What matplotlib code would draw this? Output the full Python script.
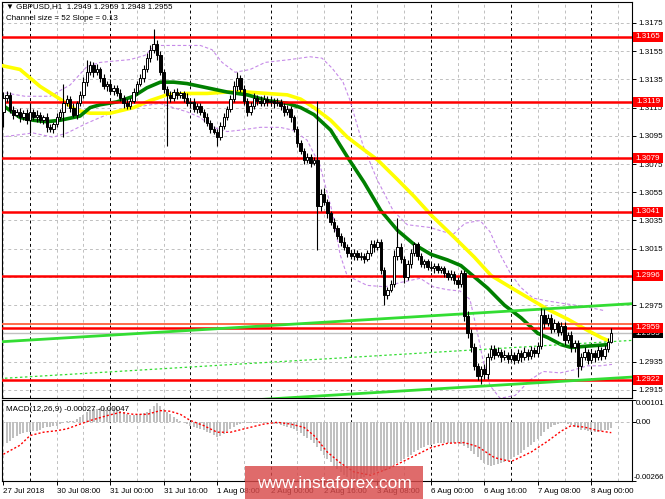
import numpy as np
import matplotlib
matplotlib.use('Agg')
import matplotlib.pyplot as plt
from matplotlib.patches import Rectangle

plt.rcParams['font.family'] = ['Liberation Sans', 'DejaVu Sans']

# GBPUSD H1, bar 0 = 27 Jul 2018 16:00
first_open = 1.3112
closes = [
    1.3122, 1.3124, 1.3113, 1.3110, 1.3112, 1.3108, 1.3111, 1.3106, 1.3112, 1.3108,
    1.3110, 1.3106, 1.3108, 1.3101, 1.3100, 1.3103, 1.3108, 1.3112, 1.3118, 1.3121,
    1.3115, 1.3110, 1.3118, 1.3124, 1.3133, 1.3140, 1.3145, 1.3140, 1.3142, 1.3136,
    1.3130, 1.3132, 1.3127, 1.3129, 1.3125, 1.3122, 1.3118, 1.3116, 1.3120, 1.3126,
    1.3132, 1.3136, 1.3142, 1.3150, 1.3156, 1.3160, 1.3152, 1.3140, 1.3128, 1.3124,
    1.3122, 1.3126, 1.3124, 1.3125, 1.3122, 1.3118, 1.3119, 1.3114, 1.3116, 1.3112,
    1.3108, 1.3104, 1.3100, 1.3098, 1.3094, 1.3102, 1.3108, 1.3114, 1.3121, 1.3130,
    1.3136, 1.3128, 1.3120, 1.3112, 1.3116, 1.3122, 1.3120, 1.3118, 1.3121, 1.3119,
    1.3120, 1.3118, 1.3119, 1.3116, 1.3112, 1.3114, 1.3108, 1.3100, 1.3090, 1.3084,
    1.3078, 1.3080, 1.3076, 1.3078, 1.3045, 1.3054, 1.3048, 1.3040, 1.3034, 1.3030,
    1.3024, 1.3020, 1.3016, 1.3012, 1.3010, 1.3012, 1.3009, 1.3010, 1.3008, 1.3012,
    1.3018, 1.3016, 1.3020, 1.3000, 1.2982, 1.2986, 1.2990, 1.3010, 1.3016, 1.3008,
    1.2995, 1.3004, 1.3012, 1.3018, 1.3010, 1.3004, 1.3006, 1.3002, 1.3001, 1.3003,
    1.3000, 1.3001, 1.2998, 1.2995, 1.2997, 1.2993, 1.2990, 1.2998, 1.2967, 1.2955,
    1.2945, 1.2932, 1.2925, 1.2930, 1.2926, 1.2938, 1.2944, 1.2940, 1.2942, 1.2938,
    1.2940, 1.2937, 1.2940, 1.2936, 1.2941, 1.2938, 1.2942, 1.2939, 1.2943, 1.2941,
    1.2946, 1.2968, 1.2962, 1.2966, 1.2958, 1.2962, 1.2956, 1.2960, 1.2950, 1.2954,
    1.2945, 1.2948, 1.2932, 1.2938, 1.2942, 1.2936, 1.2941, 1.2938, 1.2943, 1.2939,
    1.2944, 1.2949, 1.2955]
# wick lengths in pips beyond the body
upper_wick = [
    4, 3, 2, 3, 2, 3, 2, 3, 6, 2, 3, 2, 2, 3, 2, 2, 3, 2, 14, 3,
    2, 3, 2, 3, 4, 9, 3, 2, 4, 2, 3, 2, 3, 2, 2, 3, 2, 3, 2, 3,
    2, 3, 3, 4, 3, 11, 3, 3, 2, 2, 3, 2, 3, 2, 2, 3, 2, 3, 2, 2,
    2, 3, 2, 2, 2, 3, 3, 2, 3, 4, 4, 2, 3, 2, 3, 3, 2, 3, 3, 2,
    3, 2, 3, 2, 2, 3, 2, 2, 2, 2, 2, 3, 2, 2, 42, 3, 4, 2, 2, 3,
    2, 2, 3, 2, 2, 3, 2, 3, 2, 2, 3, 3, 2, 2, 2, 2, 3, 4, 21, 3,
    2, 3, 3, 2, 2, 2, 2, 2, 3, 2, 2, 2, 2, 2, 3, 2, 2, 2, 2, 4,
    3, 3, 2, 2, 3, 3, 3, 3, 3, 2, 3, 2, 3, 2, 3, 2, 3, 2, 3, 2,
    3, 5, 4, 3, 3, 3, 2, 3, 3, 2, 3, 2, 2, 3, 3, 2, 3, 2, 3, 2,
    3, 3, 4]
lower_wick = [
    11, 3, 2, 3, 2, 3, 2, 3, 9, 2, 3, 2, 3, 3, 2, 3, 2, 2, 18, 2,
    3, 2, 3, 2, 2, 3, 2, 3, 2, 3, 2, 3, 2, 3, 2, 2, 3, 2, 2, 2,
    2, 2, 3, 2, 3, 2, 3, 2, 3, 36, 3, 2, 3, 2, 3, 2, 3, 2, 3, 2,
    3, 2, 3, 2, 6, 2, 2, 2, 2, 2, 3, 2, 3, 3, 2, 2, 3, 2, 2, 3,
    2, 3, 2, 3, 3, 2, 3, 2, 3, 2, 3, 2, 3, 2, 31, 3, 2, 3, 2, 3,
    2, 3, 2, 3, 2, 3, 2, 2, 3, 2, 2, 3, 2, 3, 7, 3, 2, 2, 3, 3,
    4, 2, 3, 2, 3, 2, 3, 2, 2, 3, 2, 2, 3, 2, 2, 3, 3, 2, 3, 3,
    3, 3, 3, 6, 3, 3, 2, 3, 2, 3, 2, 3, 2, 3, 2, 3, 2, 3, 2, 3,
    3, 2, 3, 2, 3, 2, 3, 2, 3, 2, 3, 3, 8, 3, 2, 3, 2, 3, 2, 3,
    2, 2, 1]

# moving averages (bar index, price)
yellow_i = [-1, 5, 11, 17, 22, 26, 32, 39, 44, 49, 55, 61, 67, 73, 79, 85, 89, 93, 98, 103,
            108, 112, 118, 123, 128, 135, 141, 146, 153, 158, 163, 169, 175, 179, 181]
yellow_p = [1.3145, 1.3142, 1.3130, 1.3121, 1.3113, 1.3111, 1.3111, 1.3115, 1.3120, 1.3124,
            1.3125, 1.3125, 1.3126, 1.3126, 1.3125, 1.3124, 1.3121, 1.3115, 1.3106, 1.3094,
            1.3085, 1.3078, 1.3064, 1.3052, 1.3039, 1.3023, 1.3009, 1.2996, 1.2986, 1.2979,
            1.2972, 1.2965, 1.2957, 1.2952, 1.2950]
green_i = [-1, 2, 5, 9, 13, 17, 21, 23, 26, 29, 34, 39, 43, 47, 51, 55, 61, 67, 73, 79,
           85, 89, 93, 98, 103, 108, 113, 118, 123, 128, 133, 137, 141, 145, 150, 155, 160, 163,
           167, 170, 175, 181]
green_p = [1.3118, 1.3113, 1.3108, 1.3106, 1.3105, 1.3106, 1.3108, 1.3109, 1.3115, 1.3117,
           1.3119, 1.3123, 1.3129, 1.3133, 1.3133, 1.3132, 1.3129, 1.3126, 1.3124, 1.3120,
           1.3118, 1.3115, 1.3110, 1.3099, 1.3080, 1.3062, 1.3042, 1.3028, 1.3018, 1.3011,
           1.3007, 1.3003, 1.2995, 1.2987, 1.2975, 1.2966, 1.2955, 1.2952, 1.2947, 1.2945,
           1.2946, 1.2947]
band_up_i = [-1, 6.5, 14, 20, 25, 29, 38, 42.4, 45.4, 59, 62.5, 65.5, 69.4, 73.9, 78.4, 85.8,
             91.8, 95.4, 98.4, 101.7, 103.8, 107.7, 111.9, 116.7, 120.9, 127.8, 134.6, 138.2,
             142.7, 145.7, 148.7, 151.7, 154.7, 158.6, 162.8, 168.2, 174.2, 180.1]
band_up_p = [1.3126, 1.3123, 1.3123, 1.3131, 1.3144, 1.3147, 1.3149, 1.3152, 1.3159, 1.3159,
             1.3156, 1.3147, 1.3140, 1.3142, 1.3147, 1.3149, 1.3151, 1.3150, 1.3143, 1.3133,
             1.3120, 1.3088, 1.3064, 1.3042, 1.3032, 1.3030, 1.3025, 1.3033, 1.3035, 1.3027,
             1.3011, 1.2998, 1.2988, 1.2980, 1.2978, 1.2976, 1.2974, 1.2971]
band_lo_i = [-1, 8.9, 14.9, 19.1, 25.1, 32, 38.9, 46.9, 50.8, 55, 58.9, 62.8, 67, 70.9, 76.9,
             82.8, 86.7, 90.9, 94.8, 98.7, 100.8, 102.9, 108.9, 114.3, 118.8, 124.8, 128.7,
             132.8, 136.7, 139.7, 141.8, 143.6, 145.7, 148.7, 153.2, 157.7, 161.6, 166.7,
             170.6, 174.8, 178.7, 182.2]
band_lo_p = [1.3094, 1.3097, 1.3094, 1.3097, 1.3104, 1.3111, 1.3115, 1.3118, 1.3115, 1.3112,
             1.3108, 1.3101, 1.3098, 1.3099, 1.3101, 1.3101, 1.3099, 1.3092, 1.3074, 1.3039,
             1.3011, 1.2996, 1.2989, 1.2988, 1.2991, 1.2994, 1.2988, 1.2986, 1.2985, 1.2979,
             1.2957, 1.2936, 1.2918, 1.2909, 1.2911, 1.2922, 1.2928, 1.2927, 1.2929, 1.2932,
             1.2932, 1.2933]

# regression channel
channel_i = [-1, 188]
channel_top = [1.2949, 1.2976]
channel_mid = [1.2923, 1.2950]
channel_bot = [1.2897, 1.2924]

levels = [1.3165, 1.3119, 1.3079, 1.3041, 1.2996, 1.2959, 1.2922]
bid = 1.2955
price_ticks = [1.2915, 1.2935, 1.2975, 1.3015, 1.3035, 1.3055, 1.3075,
               1.3095, 1.3115, 1.3135, 1.3155, 1.3175]
grid_prices = [1.2915, 1.2935, 1.2955, 1.2975, 1.2995, 1.3015, 1.3035, 1.3055, 1.3075,
               1.3095, 1.3115, 1.3135, 1.3155, 1.3175]

# MACD(12,26,9) main line (x1e-5) per bar and signal points
macd_hist = [
    -100, -95, -85, -70, -62, -55, -50, -45, -42, -40,
    -38, -33, -28, -23, -20, -17, -15, -10, -3, 5,
    8, 8, 15, 23, 35, 45, 52, 59, 62, 64,
    66, 68, 66, 63, 58, 53, 45, 38, 35, 34,
    35, 37, 40, 45, 60, 75, 88, 72, 60, 48,
    37, 25, 14, 6, 0, -8, -15, -20, -25, -30,
    -36, -42, -48, -58, -68, -62, -53, -40, -30, -20,
    -14, -8, -4, -3, -3, -2, -2, -3, -3, -3,
    -4, -7, -10, -13, -15, -20, -25, -30, -40, -48,
    -60, -72, -82, -92, -110, -128, -148, -165, -182, -198,
    -212, -225, -238, -250, -258, -262, -258, -252, -246, -240,
    -234, -228, -222, -218, -220, -214, -204, -194, -185, -176,
    -166, -156, -146, -136, -126, -117, -110, -105, -101, -98,
    -95, -93, -92, -92, -92, -92, -94, -98, -107, -118,
    -128, -142, -158, -172, -184, -192, -196, -194, -190, -186,
    -180, -174, -167, -158, -148, -137, -126, -114, -101, -88,
    -75, -60, -45, -32, -22, -14, -8, -4, -3, -6,
    -12, -20, -28, -33, -37, -40, -42, -43, -42, -40,
    -37, -33, -27]
signal_i = [0, 5, 8, 12, 16, 19, 23, 26, 31, 35, 39, 43, 47, 50, 53, 56, 60, 64, 68, 72,
            78, 82, 86, 90, 93, 97, 101, 105, 110, 116, 122, 128, 133, 138, 142, 147, 152,
            158, 163, 167, 170, 174, 178, 182]
signal_v = [-145, -104, -60, -45, -38, -30, -8, 8, 30, 45, 36, 36, 53, 50, 36, 8, -15, -45,
            -45, -30, -8, 0, -8, -23, -60, -135, -185, -225, -240, -205, -160, -115, -95,
            -92, -110, -160, -178, -135, -85, -40, -15, -22, -38, -47]

time_ticks = [0, 16, 32, 48, 64, 80, 96, 112, 128, 144, 160, 176]
time_labels = ['27 Jul 2018', '30 Jul 08:00', '31 Jul 00:00', '31 Jul 16:00', '1 Aug 08:00',
               '2 Aug 00:00', '2 Aug 16:00', '3 Aug 08:00', '6 Aug 00:00', '6 Aug 16:00',
               '7 Aug 08:00', '8 Aug 00:00']
day_starts = [8, 32, 56, 80, 104, 128, 152, 176]

W, H = 665, 499
fig = plt.figure(figsize=(W / 100, H / 100), dpi=100)
fig.patch.set_facecolor('white')


def frac(x0, y0, x1, y1):
    return [x0 / W, 1 - y1 / H, (x1 - x0) / W, (y1 - y0) / H]


ax = fig.add_axes(frac(2, 2, 632, 398))
ax2 = fig.add_axes(frac(2, 400, 632, 481))
xlim = (-0.39, 188.2)
fs = 5.8

n = len(closes)
idx = np.arange(n)
c = np.array(closes)
o = np.concatenate([[first_open], c[:-1]])
hi = np.maximum(o, c) + np.array(upper_wick) * 0.0001
lo = np.minimum(o, c) - np.array(lower_wick) * 0.0001

# grid
for a in (ax, ax2):
    for g in range(0, 189, 8):
        if g in day_starts:
            a.axvline(g, color='black', lw=0.7, ls=(0, (3, 3)), zorder=1)
        else:
            a.axvline(g, color='#c0c0c0', lw=0.7, ls=(0, (3, 3)), zorder=1)
for t in grid_prices:
    ax.axhline(t, color='#c0c0c0', lw=0.7, ls=(0, (3, 3)), zorder=1)

# bands and averages
ax.plot(band_up_i, band_up_p, color='#c68ae8', lw=0.8, ls=(0, (3, 2)), zorder=2)
ax.plot(band_lo_i, band_lo_p, color='#c68ae8', lw=0.8, ls=(0, (3, 2)), zorder=2)
ax.plot(yellow_i, yellow_p, color='#ffff00', lw=2.6, zorder=3, solid_capstyle='butt')
ax.plot(green_i, green_p, color='#008000', lw=2.6, zorder=3, solid_capstyle='butt')

# levels
for lv in levels:
    ax.axhline(lv, color='#ff0000', lw=1.8, zorder=4)
ax.axhline(1.29615, color='#ff6a4a', lw=1.4, zorder=4)
ax.axhline(bid, color='#c0c0c0', lw=1.0, zorder=2)

# channel
ax.plot(channel_i, channel_top, color='#33dd33', lw=2, zorder=4)
ax.plot(channel_i, channel_bot, color='#33dd33', lw=2, zorder=4)
ax.plot(channel_i, channel_mid, color='#33dd33', lw=0.9, ls=(0, (2, 2)), zorder=4)

# candles
ax.vlines(idx, lo, hi, color='black', lw=0.8, zorder=5)
bull = c >= o
body_h = np.maximum(np.abs(c - o), 0.00002)
ax.bar(idx[bull], body_h[bull], bottom=np.minimum(o, c)[bull], width=0.72,
       color='white', edgecolor='black', linewidth=0.7, zorder=6)
ax.bar(idx[~bull], body_h[~bull], bottom=np.minimum(o, c)[~bull], width=0.72,
       color='black', edgecolor='black', linewidth=0.7, zorder=6)

ax.set_xlim(*xlim)
ax.set_ylim(1.29092, 1.31898)
ax.yaxis.tick_right()
ax.set_yticks(price_ticks)
ax.set_yticklabels(['%.4f' % t for t in price_ticks])
ax.tick_params(axis='y', length=3, width=0.7, pad=1.5, labelsize=fs)
ax.set_xticks([])

# price labels on the scale: current price first, level labels over it
ytr = ax.get_yaxis_transform()
box_h = 0.00071
for val, col, z in [(bid, 'black', 9)] + [(lv, '#ff0000', 10) for lv in levels]:
    ax.add_patch(Rectangle((1.0015, val - box_h / 2), 0.048, box_h, transform=ytr,
                           fc=col, ec='none', clip_on=False, zorder=z))
    ax.text(1.0255, val, '%.4f' % val, transform=ytr, color='white', fontsize=fs,
            va='center', ha='center', zorder=z, clip_on=False)

ax.text(0.007, 0.997, '\u25bc GBPUSD,H1  1.2949 1.2959 1.2948 1.2955', transform=ax.transAxes,
        fontsize=fs, va='top', ha='left')
ax.text(0.007, 0.966, 'Channel size = 52 Slope = 0.13', transform=ax.transAxes,
        fontsize=fs, va='top', ha='left')

# MACD
hv = np.array(macd_hist) * 1e-5
ax2.bar(idx, hv, width=0.6, color='#c0c0c0', zorder=2)
ax2.plot(signal_i, np.array(signal_v) * 1e-5, color='#ff0000', lw=1.0, ls=(0, (1.5, 1.5)), zorder=3)
ax2.axhline(0, color='#c0c0c0', lw=0.7, ls=(0, (3, 3)), zorder=1)
ax2.set_xlim(*xlim)
ax2.set_ylim(-0.00266, 0.00101)
ax2.yaxis.tick_right()
ax2.set_yticks([0.00101, 0.0, -0.00266])
ax2.set_yticklabels([])
ax2.tick_params(axis='y', length=3, width=0.7)
ax2.text(1.0065, 0.00101, '0.00101', transform=ax2.get_yaxis_transform(), fontsize=fs,
         va='top', ha='left')
ax2.text(1.0065, 0.0, '0.00', transform=ax2.get_yaxis_transform(), fontsize=fs,
         va='center', ha='left')
ax2.text(1.002, -0.00266, '-0.00266', transform=ax2.get_yaxis_transform(), fontsize=5.6,
         va='bottom', ha='left')
ax2.text(0.007, 0.93, 'MACD(12,26,9) -0.00027 -0.00047', transform=ax2.transAxes,
         fontsize=fs, va='top', ha='left')
ax2.set_xticks(time_ticks)
ax2.set_xticklabels(time_labels, ha='left')
ax2.tick_params(axis='x', length=3, width=0.7, pad=2, labelsize=fs)

for a in (ax, ax2):
    for s in a.spines.values():
        s.set_linewidth(0.8)

# watermark
fig.patches.append(Rectangle((245 / W, 0), 178 / W, 33 / H, transform=fig.transFigure,
                             fc='#d94a4a', ec='none', alpha=0.82, zorder=20))
fig.text(334 / W, 1 - 484 / H, 'www.instaforex.com', color='white', fontsize=12.5,
         ha='center', va='center', zorder=21)

fig.savefig('out.png', dpi=100)
